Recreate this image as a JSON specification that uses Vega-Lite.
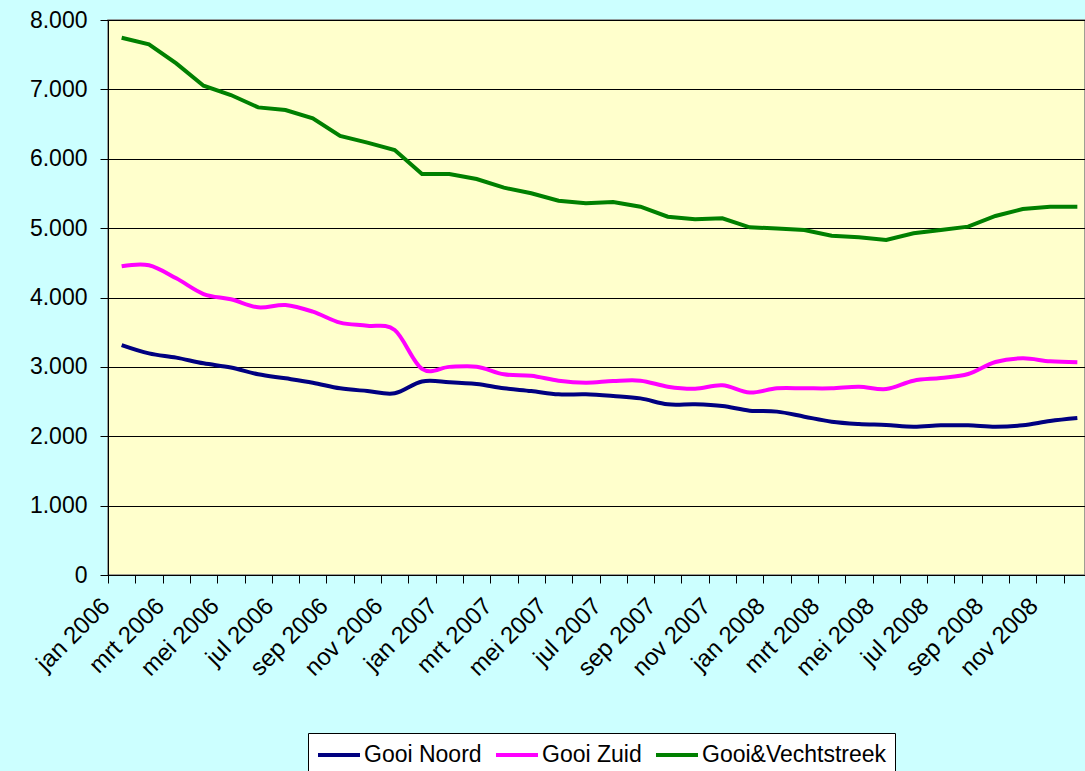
{
  "$schema": "https://vega.github.io/schema/vega-lite/v6.json",
  "width": 977,
  "height": 555,
  "autosize": {"type": "none"},
  "padding": {"left": 108, "top": 20, "right": 0, "bottom": 196},
  "background": "#CCFFFF",
  "config": {
    "view": {"fill": "#FFFFCC", "stroke": "#808080", "strokeWidth": 1.5},
    "font": "Liberation Sans"
  },
  "data": {
    "values": [
      {"maand": "jan 2006", "Gooi Noord": 3315, "Gooi Zuid": 4450, "Gooi&Vechtstreek": 7745},
      {"maand": "feb 2006", "Gooi Noord": 3195, "Gooi Zuid": 4465, "Gooi&Vechtstreek": 7650},
      {"maand": "mrt 2006", "Gooi Noord": 3133, "Gooi Zuid": 4276, "Gooi&Vechtstreek": 7375},
      {"maand": "apr 2006", "Gooi Noord": 3051, "Gooi Zuid": 4050, "Gooi&Vechtstreek": 7053},
      {"maand": "mei 2006", "Gooi Noord": 2990, "Gooi Zuid": 3974, "Gooi&Vechtstreek": 6919},
      {"maand": "jun 2006", "Gooi Noord": 2893, "Gooi Zuid": 3859, "Gooi&Vechtstreek": 6740},
      {"maand": "jul 2006", "Gooi Noord": 2835, "Gooi Zuid": 3892, "Gooi&Vechtstreek": 6703},
      {"maand": "aug 2006", "Gooi Noord": 2772, "Gooi Zuid": 3796, "Gooi&Vechtstreek": 6583},
      {"maand": "sep 2006", "Gooi Noord": 2691, "Gooi Zuid": 3637, "Gooi&Vechtstreek": 6328},
      {"maand": "okt 2006", "Gooi Noord": 2652, "Gooi Zuid": 3594, "Gooi&Vechtstreek": 6232},
      {"maand": "nov 2006", "Gooi Noord": 2619, "Gooi Zuid": 3531, "Gooi&Vechtstreek": 6126},
      {"maand": "dec 2006", "Gooi Noord": 2790, "Gooi Zuid": 2970, "Gooi&Vechtstreek": 5780},
      {"maand": "jan 2007", "Gooi Noord": 2780, "Gooi Zuid": 3000, "Gooi&Vechtstreek": 5780},
      {"maand": "feb 2007", "Gooi Noord": 2753, "Gooi Zuid": 3003, "Gooi&Vechtstreek": 5708},
      {"maand": "mrt 2007", "Gooi Noord": 2691, "Gooi Zuid": 2893, "Gooi&Vechtstreek": 5583},
      {"maand": "apr 2007", "Gooi Noord": 2652, "Gooi Zuid": 2873, "Gooi&Vechtstreek": 5502},
      {"maand": "mei 2007", "Gooi Noord": 2604, "Gooi Zuid": 2801, "Gooi&Vechtstreek": 5396},
      {"maand": "jun 2007", "Gooi Noord": 2604, "Gooi Zuid": 2772, "Gooi&Vechtstreek": 5358},
      {"maand": "jul 2007", "Gooi Noord": 2580, "Gooi Zuid": 2796, "Gooi&Vechtstreek": 5377},
      {"maand": "aug 2007", "Gooi Noord": 2546, "Gooi Zuid": 2801, "Gooi&Vechtstreek": 5309},
      {"maand": "sep 2007", "Gooi Noord": 2460, "Gooi Zuid": 2715, "Gooi&Vechtstreek": 5165},
      {"maand": "okt 2007", "Gooi Noord": 2460, "Gooi Zuid": 2686, "Gooi&Vechtstreek": 5127},
      {"maand": "nov 2007", "Gooi Noord": 2436, "Gooi Zuid": 2734, "Gooi&Vechtstreek": 5141},
      {"maand": "dec 2007", "Gooi Noord": 2369, "Gooi Zuid": 2630, "Gooi&Vechtstreek": 5012},
      {"maand": "jan 2008", "Gooi Noord": 2355, "Gooi Zuid": 2691, "Gooi&Vechtstreek": 4995},
      {"maand": "feb 2008", "Gooi Noord": 2282, "Gooi Zuid": 2691, "Gooi&Vechtstreek": 4973},
      {"maand": "mrt 2008", "Gooi Noord": 2210, "Gooi Zuid": 2691, "Gooi&Vechtstreek": 4891},
      {"maand": "apr 2008", "Gooi Noord": 2177, "Gooi Zuid": 2715, "Gooi&Vechtstreek": 4867},
      {"maand": "mei 2008", "Gooi Noord": 2162, "Gooi Zuid": 2681, "Gooi&Vechtstreek": 4829},
      {"maand": "jun 2008", "Gooi Noord": 2138, "Gooi Zuid": 2801, "Gooi&Vechtstreek": 4925},
      {"maand": "jul 2008", "Gooi Noord": 2157, "Gooi Zuid": 2840, "Gooi&Vechtstreek": 4973},
      {"maand": "aug 2008", "Gooi Noord": 2157, "Gooi Zuid": 2897, "Gooi&Vechtstreek": 5021},
      {"maand": "sep 2008", "Gooi Noord": 2138, "Gooi Zuid": 3070, "Gooi&Vechtstreek": 5175},
      {"maand": "okt 2008", "Gooi Noord": 2157, "Gooi Zuid": 3123, "Gooi&Vechtstreek": 5276},
      {"maand": "nov 2008", "Gooi Noord": 2220, "Gooi Zuid": 3080, "Gooi&Vechtstreek": 5309},
      {"maand": "dec 2008", "Gooi Noord": 2263, "Gooi Zuid": 3066, "Gooi&Vechtstreek": 5309}
    ]
  },
  "transform": [
    {"fold": ["Gooi Noord", "Gooi Zuid", "Gooi&Vechtstreek"], "as": ["regio", "aantal"]}
  ],
  "encoding": {
    "x": {
      "field": "maand",
      "type": "ordinal",
      "sort": null,
      "bandPosition": 0.5,
      "scale": {"type": "band", "paddingInner": 0, "paddingOuter": 0, "range": [0, 983]},
      "axis": {
        "title": null,
        "labelAngle": -45,
        "labelAlign": "right",
        "labelBaseline": "middle",
        "labelOffset": -16,
        "labelPadding": 19,
        "tickSize": 8,
        "tickBand": "extent",
        "labelExpr": "test(/^(jan|mrt|mei|jul|sep|nov) /, datum.label) ? datum.label : ''",
        "labelFontSize": 24,
        "labelFont": "Liberation Sans",
        "labelColor": "black",
        "domainColor": "black",
        "tickColor": "black",
        "grid": false,
        "labelOverlap": false,
        "labelBound": false,
        "labelLimit": 0
      }
    },
    "y": {
      "field": "aantal",
      "type": "quantitative",
      "scale": {"domain": [0, 8000], "nice": false},
      "axis": {
        "title": null,
        "values": [0, 1000, 2000, 3000, 4000, 5000, 6000, 7000, 8000],
        "labelExpr": "replace(format(datum.value, ','), ',', '.')",
        "tickSize": 8,
        "labelPadding": 13,
        "labelFontSize": 23,
        "labelFont": "Liberation Sans",
        "labelColor": "black",
        "domainColor": "black",
        "tickColor": "black",
        "grid": true,
        "gridColor": "black",
        "gridOpacity": 1,
        "gridWidth": 1
      }
    },
    "color": {
      "field": "regio",
      "type": "nominal",
      "scale": {
        "domain": ["Gooi Noord", "Gooi Zuid", "Gooi&Vechtstreek"],
        "range": ["#000080", "#FF00FF", "#008000"]
      },
      "legend": {
        "orient": "none",
        "legendX": 200,
        "legendY": 713,
        "direction": "horizontal",
        "columns": 3,
        "title": null,
        "symbolType": "M-1,0L2.5,0",
        "symbolSize": 576,
        "symbolStrokeWidth": 4,
        "labelFontSize": 23,
        "labelFont": "Liberation Sans",
        "labelColor": "black",
        "labelOffset": 20,
        "labelLimit": 0,
        "columnPadding": 6,
        "padding": 8,
        "fillColor": "white",
        "strokeColor": "black",
        "cornerRadius": 0
      }
    }
  },
  "layer": [
    {
      "transform": [{"filter": "datum.regio !== 'Gooi&Vechtstreek'"}],
      "mark": {"type": "line", "interpolate": "cardinal", "tension": 0, "strokeWidth": 4}
    },
    {
      "transform": [{"filter": "datum.regio === 'Gooi&Vechtstreek'"}],
      "mark": {"type": "line", "strokeWidth": 4}
    }
  ]
}
